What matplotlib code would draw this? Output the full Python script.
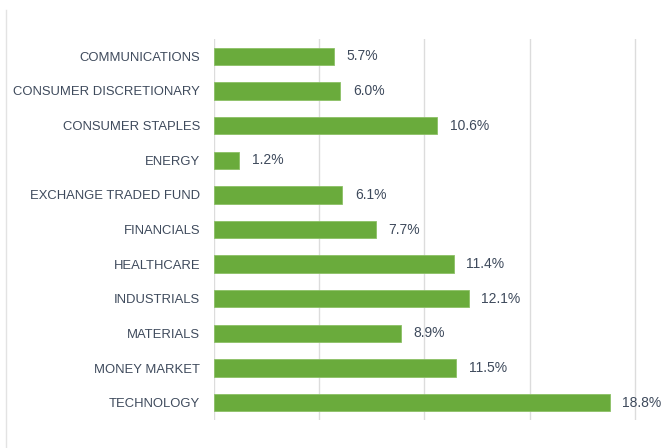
import matplotlib
matplotlib.use("Agg")
import matplotlib.pyplot as plt
from matplotlib.lines import Line2D

plt.rcParams['font.family'] = ['Liberation Sans', 'DejaVu Sans']

sectors = ["COMMUNICATIONS", "CONSUMER DISCRETIONARY", "CONSUMER STAPLES", "ENERGY",
           "EXCHANGE TRADED FUND", "FINANCIALS", "HEALTHCARE", "INDUSTRIALS",
           "MATERIALS", "MONEY MARKET", "TECHNOLOGY"]
weights = [5.7, 6.0, 10.6, 1.2, 6.1, 7.7, 11.4, 12.1, 8.9, 11.5, 18.8]
grid_ticks = [0, 5, 10, 15, 20]

text_col = "#3e4a5c"

fig = plt.figure(figsize=(6.68, 4.48), dpi=100)
ax = fig.add_axes([0.3204, 0.0625, 0.6332, 0.8504])

ypos = list(range(len(sectors)))
ax.barh(ypos, weights, height=0.5, color="#6aab3c", edgecolor="#8cc066", linewidth=0.6, zorder=3)

for y, w in zip(ypos, weights):
    ax.annotate(f"{w:.1f}%", (w, y), xytext=(9, 0), textcoords="offset points",
                va="center", ha="left", fontsize=10, color=text_col, clip_on=False)

ax.set_xlim(0, 20.1)
ax.set_ylim(len(sectors) - 0.5, -0.5)
ax.set_xticks(grid_ticks)
ax.set_xticklabels([])
ax.set_yticks(ypos)
ax.set_yticklabels(sectors, fontsize=9.4, color=text_col)
ax.tick_params(axis="both", length=0)
ax.tick_params(axis="y", pad=10)
ax.grid(axis="x", color="#dcdcdc", linewidth=1, zorder=0)
for s in ax.spines.values():
    s.set_visible(False)

# faint frame edge at the left of the picture
fig.add_artist(Line2D([6 / 668, 6 / 668], [0, 1 - 10 / 448], transform=fig.transFigure,
                      color="#e3e3e3", linewidth=1))

fig.savefig("out.png", dpi=100, facecolor="white")
